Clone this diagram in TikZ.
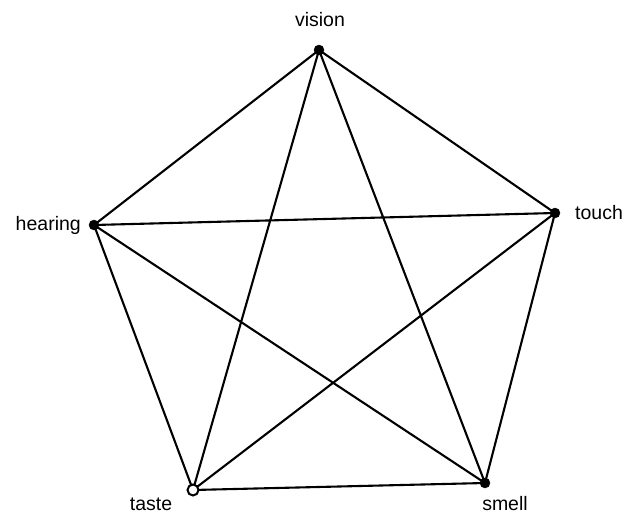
\documentclass[tikz,border=0pt]{standalone}
\usepackage{fontspec}
\setmainfont{Liberation Sans}
\begin{document}
\begin{tikzpicture}[x=1pt,y=-1pt,
  vert/.style={circle,fill=black,draw=black,inner sep=0pt,minimum size=10pt},
  openvert/.style={circle,fill=white,draw=black,line width=2pt,inner sep=0pt,minimum size=11pt},
  lab/.style={font=\fontsize{19.5}{22}\selectfont,inner sep=0pt},
  edge/.style={line width=2.1pt,line cap=round}]
\useasboundingbox (0,0) rectangle (624,514);
\coordinate (vision) at (319,50);
\coordinate (touch) at (555,213);
\coordinate (hearing) at (94,225);
\coordinate (taste) at (193,490);
\coordinate (smell) at (485,483);
\draw[edge] (vision) -- (touch) (vision) -- (hearing) (vision) -- (taste) (vision) -- (smell)
  (touch) -- (hearing) (touch) -- (taste) (touch) -- (smell)
  (hearing) -- (taste) (hearing) -- (smell) (taste) -- (smell);
\node[vert] (nv) at (vision) {};
\node[vert] (nt) at (touch) {};
\node[vert] (nh) at (hearing) {};
\node[vert] (ns) at (smell) {};
\node[openvert] (nta) at (taste) {};
\node[lab,anchor=base] (lv) at (320,27) {vision};
\node[lab,anchor=west] (lt) at (575,213) {touch};
\node[lab,anchor=east] (lh) at (81,225) {hearing};
\node[lab,anchor=base] (lta) at (151,510) {taste};
\node[lab,anchor=base] (ls) at (505,510) {smell};
\end{tikzpicture}
\end{document}
